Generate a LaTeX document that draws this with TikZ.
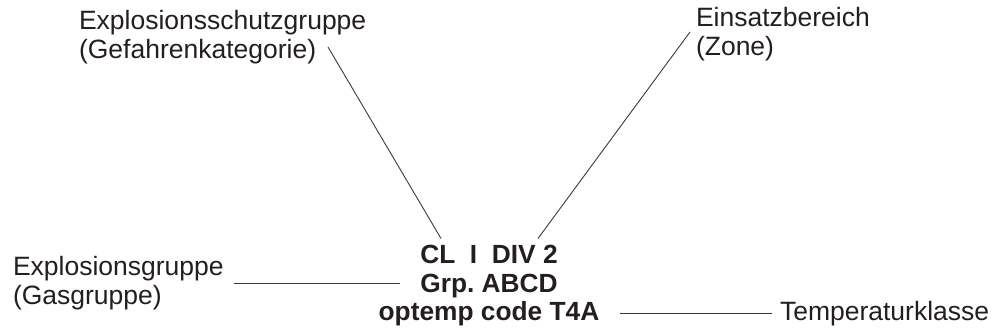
\documentclass[tikz,border=0pt]{standalone}
\usepackage{fontspec}
\setmainfont{Liberation Sans}
\frenchspacing
\definecolor{ink}{HTML}{231F20}
\definecolor{wire}{HTML}{3A3A3A}
\begin{document}
\begin{tikzpicture}[x=1pt,y=-1pt,
  lbl/.style={inner sep=0pt,outer sep=0pt,text=ink,align=left,font=\fontsize{26.5}{29.5}\selectfont},
  ctr/.style={inner sep=0pt,outer sep=0pt,text=ink,align=center,font=\fontsize{26.3}{28.5}\selectfont\bfseries},
  conn/.style={draw=wire,line width=0.9pt}]
\useasboundingbox (0,0) rectangle (997,334);
\node[lbl,anchor=north west] (schutz) at (79,10) {Explosionsschutzgruppe\\(Gefahrenkategorie)};
\node[lbl,anchor=north west] (einsatz) at (696,7) {Einsatzbereich\\(Zone)};
\node[lbl,anchor=north west] (gas) at (13,256) {Explosionsgruppe\\(Gasgruppe)};
\node[lbl,anchor=base west] (temp) at (780,320) {Temperaturklasse};
\node[ctr,anchor=north] (center) at (489,245.5) {CL\ \ I\ \ DIV 2\\Grp. ABCD\\optemp code T4A};
\coordinate (s1) at (328,47);
\coordinate (e1) at (690,32);
\draw[conn] (s1) -- ([shift={(-48,-7)}]center.north);
\draw[conn] (e1) -- ([shift={(49,-7)}]center.north);
\draw[conn] ([xshift=10]gas.east) -- ++(166,0);
\draw[conn] ([xshift=-8]temp.west) -- ([xshift=21]center.east |- temp.west);
\end{tikzpicture}
\end{document}
